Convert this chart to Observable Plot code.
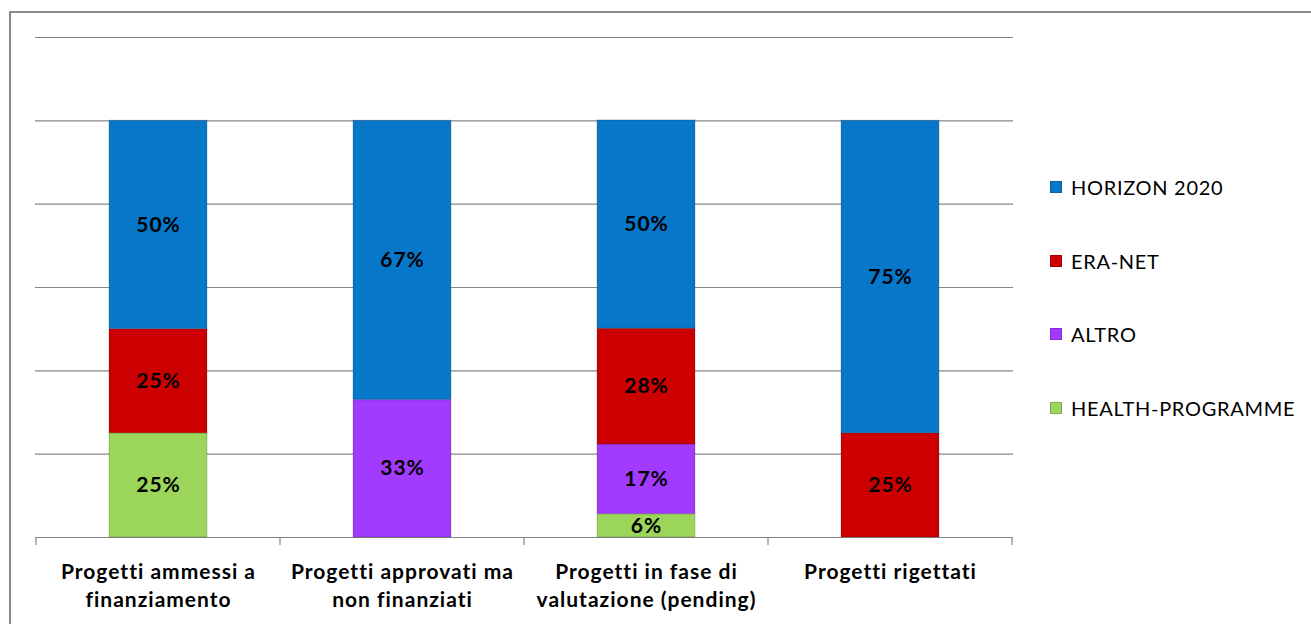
<!DOCTYPE html>
<html>
<head>
<meta charset="utf-8">
<script src="https://cdn.jsdelivr.net/npm/d3@7"></script>
<script src="https://cdn.jsdelivr.net/npm/@observablehq/plot@0.6"></script>
<style>
  html, body { margin: 0; padding: 0; background: #fff; overflow: hidden; }
  #wrap { position: relative; width: 1311px; height: 624px; }
  #frame { position: absolute; left: 9px; top: 11px; width: 1400px; height: 700px; border: 2px solid #8a8a8a; box-sizing: border-box; }
  #chart { position: absolute; left: 0; top: 0; }
  #chart svg text { letter-spacing: 1px; }
  #legend { position: absolute; left: 1050px; top: 0; font-family: Lato, "Open Sans", sans-serif; font-size: 20px; letter-spacing: 0.7px; color: #000; }
  .item { position: absolute; left: 0; white-space: nowrap; display: flex; align-items: center; }
  .sw { width: 12px; height: 12px; margin-right: 9px; box-sizing: border-box; }
</style>
</head>
<body>
<div id="wrap">
  <div id="frame"></div>
  <div id="chart"></div>
  <div id="legend"></div>
</div>
<script>
const categories = [
  "Progetti ammessi a\nfinanziamento",
  "Progetti approvati ma\nnon finanziati",
  "Progetti in fase di\nvalutazione (pending)",
  "Progetti rigettati"
];
// stack order, bottom to top
const series = ["HEALTH-PROGRAMME", "ALTRO", "ERA-NET", "HORIZON 2020"];
const colors = ["#9BD55A", "#A23AFF", "#CC0000", "#0677C9"];
const health  = [0.25, 0,    0.056, 0];
const altro   = [0,    0.33, 0.167, 0];
const eraNet  = [0.25, 0,    0.278, 0.25];
const horizon = [0.50, 0.67, 0.50,  0.75];
const gridTicks = [0, 0.2, 0.4, 0.6, 0.8, 1.0, 1.2];
const legendOrder = ["HORIZON 2020", "ERA-NET", "ALTRO", "HEALTH-PROGRAMME"];

const valuesBySeries = [health, altro, eraNet, horizon];
const data = [];
categories.forEach((c, i) => {
  series.forEach((s, j) => {
    const v = valuesBySeries[j][i];
    if (v > 0) data.push({category: c, series: s, value: v});
  });
});

const plot = Plot.plot({
  width: 1311,
  height: 624,
  marginLeft: 35,
  marginRight: 298,
  marginTop: 37,
  marginBottom: 87,
  style: {fontFamily: "Lato, 'Open Sans', sans-serif", background: "transparent"},
  x: {domain: categories, paddingInner: 0.6, paddingOuter: 0.3, axis: null},
  y: {domain: [0, 1.2], axis: null},
  color: {domain: series, range: colors},
  marks: [
    Plot.ruleY(gridTicks, {stroke: "#868686", strokeWidth: 1.2, strokeOpacity: 1}),
    Plot.barY(data, Plot.stackY({
      x: "category", y: "value", z: "series", fill: "series", order: series,
      stroke: "#000", strokeOpacity: 0.12, strokeWidth: 1.5
    })),
    Plot.text(data, Plot.stackY({
      x: "category", y: "value", z: "series", order: series,
      text: d => Math.round(d.value * 100) + "%",
      fontSize: 21, fontWeight: "bold", fill: "#000"
    })),
    Plot.text(categories, {
      x: d => d, text: d => d, frameAnchor: "bottom", lineAnchor: "top", dy: 22,
      fontSize: 21, fontWeight: "bold", fill: "#000", lineHeight: 1.33
    })
  ]
});
document.getElementById("chart").appendChild(plot);

// category boundary tick marks derived from the band scale
const xs = plot.scale("x");
const ys = plot.scale("y");
const gap = (xs.step - xs.bandwidth) / 2;
const bounds = categories.map(c => xs.apply(c) - gap);
bounds.push(xs.apply(categories[categories.length - 1]) + xs.bandwidth + gap);
const y0 = ys.apply(0);
d3.select(plot).append("g").selectAll("line").data(bounds).join("line")
  .attr("x1", d => d).attr("x2", d => d)
  .attr("y1", y0).attr("y2", y0 + 8)
  .attr("stroke", "#868686").attr("stroke-width", 1.2);

// legend
const legend = document.getElementById("legend");
legendOrder.forEach((s, i) => {
  const item = document.createElement("div");
  item.className = "item";
  item.style.top = (175 + i * 73.5) + "px";
  const sw = document.createElement("span");
  sw.className = "sw";
  sw.style.background = colors[series.indexOf(s)];
  sw.style.border = "1px solid rgba(0,0,0,0.2)";
  const t = document.createElement("span");
  t.textContent = s;
  item.appendChild(sw); item.appendChild(t);
  legend.appendChild(item);
});
</script>
</body>
</html>
